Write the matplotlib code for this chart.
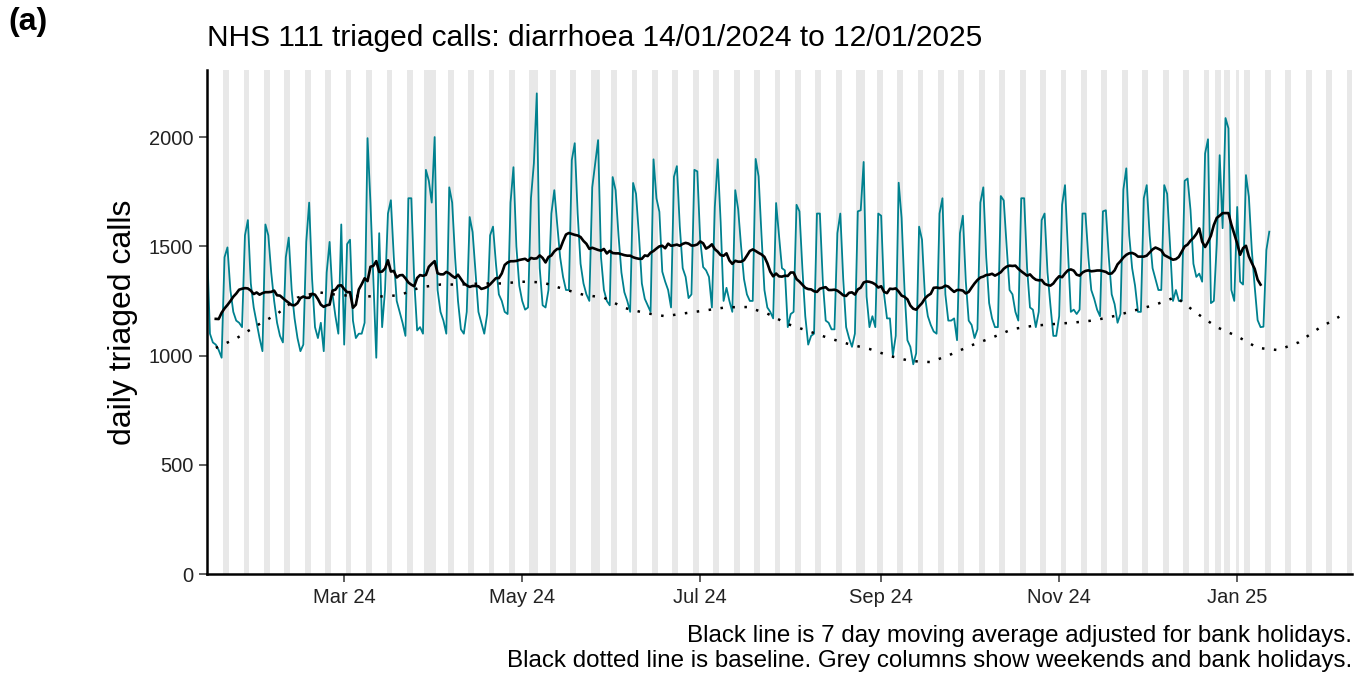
import numpy as np
import pandas as pd
import matplotlib
matplotlib.use("Agg")
import matplotlib.pyplot as plt
import matplotlib.dates as mdates

plt.rcParams["font.family"] = ["Liberation Sans", "DejaVu Sans"]

# daily triaged calls, one row per week (Sun .. Sat), from Sun 14/01/2024
weeks = [
    [1500, 1100, 1060, 1050, 1025, 990, 1450],
    [1495, 1300, 1200, 1160, 1150, 1130, 1550],
    [1620, 1330, 1220, 1150, 1080, 1020, 1600],
    [1550, 1380, 1250, 1150, 1090, 1060, 1450],
    [1540, 1300, 1170, 1080, 1020, 1050, 1520],
    [1700, 1350, 1130, 1080, 1150, 1020, 1380],
    [1520, 1280, 1180, 1100, 1600, 1050, 1510],
    [1530, 1160, 1080, 1100, 1100, 1150, 1995],
    [1700, 1350, 990, 1560, 1130, 1300, 1650],
    [1711, 1450, 1250, 1200, 1150, 1090, 1720],
    [1720, 1345, 1115, 1130, 1100, 1850, 1800],
    [1700, 2000, 1300, 1200, 1160, 1100, 1770],
    [1700, 1450, 1250, 1120, 1100, 1200, 1634],
    [1565, 1380, 1200, 1150, 1100, 1190, 1550],
    [1590, 1420, 1280, 1250, 1200, 1190, 1700],
    [1862, 1500, 1320, 1250, 1210, 1220, 1720],
    [1880, 2200, 1400, 1230, 1220, 1300, 1650],
    [1757, 1600, 1450, 1360, 1300, 1300, 1895],
    [1972, 1650, 1420, 1330, 1280, 1250, 1770],
    [1880, 1986, 1450, 1300, 1250, 1230, 1817],
    [1757, 1550, 1380, 1290, 1250, 1200, 1790],
    [1740, 1550, 1330, 1260, 1230, 1200, 1898],
    [1720, 1658, 1384, 1338, 1300, 1220, 1818],
    [1867, 1590, 1400, 1360, 1263, 1280, 1850],
    [1843, 1528, 1405, 1390, 1360, 1220, 1680],
    [1898, 1610, 1250, 1310, 1250, 1200, 1757],
    [1670, 1500, 1350, 1280, 1250, 1250, 1900],
    [1820, 1550, 1300, 1220, 1200, 1170, 1698],
    [1550, 1400, 1390, 1130, 1190, 1200, 1690],
    [1660, 1400, 1180, 1050, 1090, 1100, 1650],
    [1650, 1340, 1160, 1150, 1120, 1120, 1560],
    [1650, 1350, 1130, 1080, 1040, 1100, 1660],
    [1665, 1886, 1270, 1130, 1180, 1130, 1650],
    [1640, 1280, 1170, 1170, 1000, 1090, 1791],
    [1630, 1300, 1070, 1040, 960, 1010, 1590],
    [1530, 1270, 1180, 1140, 1110, 1100, 1650],
    [1720, 1280, 1160, 1160, 1170, 1070, 1560],
    [1640, 1340, 1160, 1140, 1080, 1120, 1700],
    [1770, 1450, 1240, 1170, 1130, 1130, 1730],
    [1710, 1500, 1300, 1280, 1200, 1160, 1720],
    [1720, 1400, 1220, 1210, 1130, 1200, 1620],
    [1650, 1380, 1230, 1090, 1090, 1180, 1690],
    [1780, 1480, 1200, 1210, 1190, 1210, 1650],
    [1650, 1450, 1300, 1260, 1210, 1180, 1660],
    [1665, 1450, 1280, 1235, 1150, 1190, 1760],
    [1857, 1550, 1400, 1320, 1200, 1200, 1720],
    [1780, 1550, 1400, 1350, 1300, 1300, 1780],
    [1740, 1500, 1250, 1300, 1250, 1250, 1800],
    [1810, 1666, 1420, 1360, 1375, 1338, 1925],
    [1990, 1240, 1250, 1510, 1917, 1583, 2087],
    [2040, 1300, 1250, 1680, 1338, 1325, 1826],
    [1727, 1483, 1315, 1162, 1130, 1132, 1483],
]
last_day = [1567]

# baseline, weekly points from Wed 17/01/2024
baseline = [1035, 1078, 1137, 1190, 1265, 1290, 1277, 1272, 1270, 1276,
            1312, 1325, 1325, 1330, 1330, 1338, 1335, 1305, 1278, 1265,
            1218, 1195, 1180, 1194, 1207, 1221, 1222, 1192, 1144, 1112,
            1080, 1052, 1030, 998, 975, 970, 1006, 1047, 1082, 1121,
            1136, 1144, 1151, 1161, 1181, 1207, 1233, 1268, 1195, 1130,
            1088, 1035, 1025, 1060, 1125, 1178]

bank_holidays = ["2024-03-29", "2024-04-01", "2024-05-06", "2024-05-27",
                 "2024-08-26", "2024-12-25", "2024-12-26", "2025-01-01"]

calls = [v for w in weeks for v in w] + last_day
dates = pd.date_range("2024-01-14", periods=len(calls), freq="D")
bh = pd.to_datetime(bank_holidays)

# 7 day moving average, bank holidays left out of the window
s = pd.Series(calls, index=dates, dtype=float)
s_adj = s.where(~s.index.isin(bh))
ma7 = s_adj.rolling(7, center=True, min_periods=1).mean()
ma7.iloc[:3] = np.nan
ma7.iloc[-3:] = np.nan

base_dates = pd.date_range("2024-01-17", periods=len(baseline), freq="7D")

x_start = pd.Timestamp("2024-01-14")
x_end = pd.Timestamp("2025-02-09 12:00")

fig = plt.figure(figsize=(13.62, 6.75), dpi=100)
ax = fig.add_axes([0.152, 0.1496, 0.841, 0.7467])

# grey columns: weekends and bank holidays
all_days = pd.date_range("2024-01-13", "2025-02-10", freq="D")
grey_days = [d for d in all_days if d.dayofweek >= 5] + list(bh)
half = pd.Timedelta(hours=12)
for d in grey_days:
    ax.axvspan(d - half, d + half, color="#e8e8e8", lw=0, zorder=0)

ax.plot(dates, calls, color="#00818f", lw=1.3, zorder=2)
ax.plot(ma7.index, ma7.values, color="black", lw=1.9, zorder=3)
ax.plot(base_dates, baseline, color="black", lw=1.8, ls=(0, (1, 3.8)), zorder=3)

ax.set_xlim(x_start, x_end)
ax.set_ylim(0, 2307)
ax.set_yticks([0, 500, 1000, 1500, 2000])
ax.xaxis.set_major_locator(mdates.MonthLocator(bymonth=[1, 3, 5, 7, 9, 11]))
ax.xaxis.set_major_formatter(mdates.DateFormatter("%b %y"))
ax.tick_params(axis="both", labelsize=14.5, length=5.5, width=1.1, pad=4.5,
               color="#333333", labelcolor="#222222")
ax.set_ylabel("daily triaged calls", fontsize=23, labelpad=8)

for sp in ["top", "right"]:
    ax.spines[sp].set_visible(False)
for sp in ["left", "bottom"]:
    ax.spines[sp].set_linewidth(1.8)

fig.text(207 / 1362, 1 - 38 / 675, "NHS 111 triaged calls: diarrhoea 14/01/2024 to 12/01/2025",
         fontsize=21.5, ha="left", va="center")
fig.text(8 / 1362, 1 - 22 / 675, "(a)", fontsize=23, fontweight="bold", ha="left", va="center")
fig.text(1352 / 1362, 1 - 636 / 675, "Black line is 7 day moving average adjusted for bank holidays.",
         fontsize=17.4, ha="right", va="center")
fig.text(1352 / 1362, 1 - 661 / 675,
         "Black dotted line is baseline. Grey columns show weekends and bank holidays.",
         fontsize=17.4, ha="right", va="center")

fig.savefig("out.png", dpi=100)
